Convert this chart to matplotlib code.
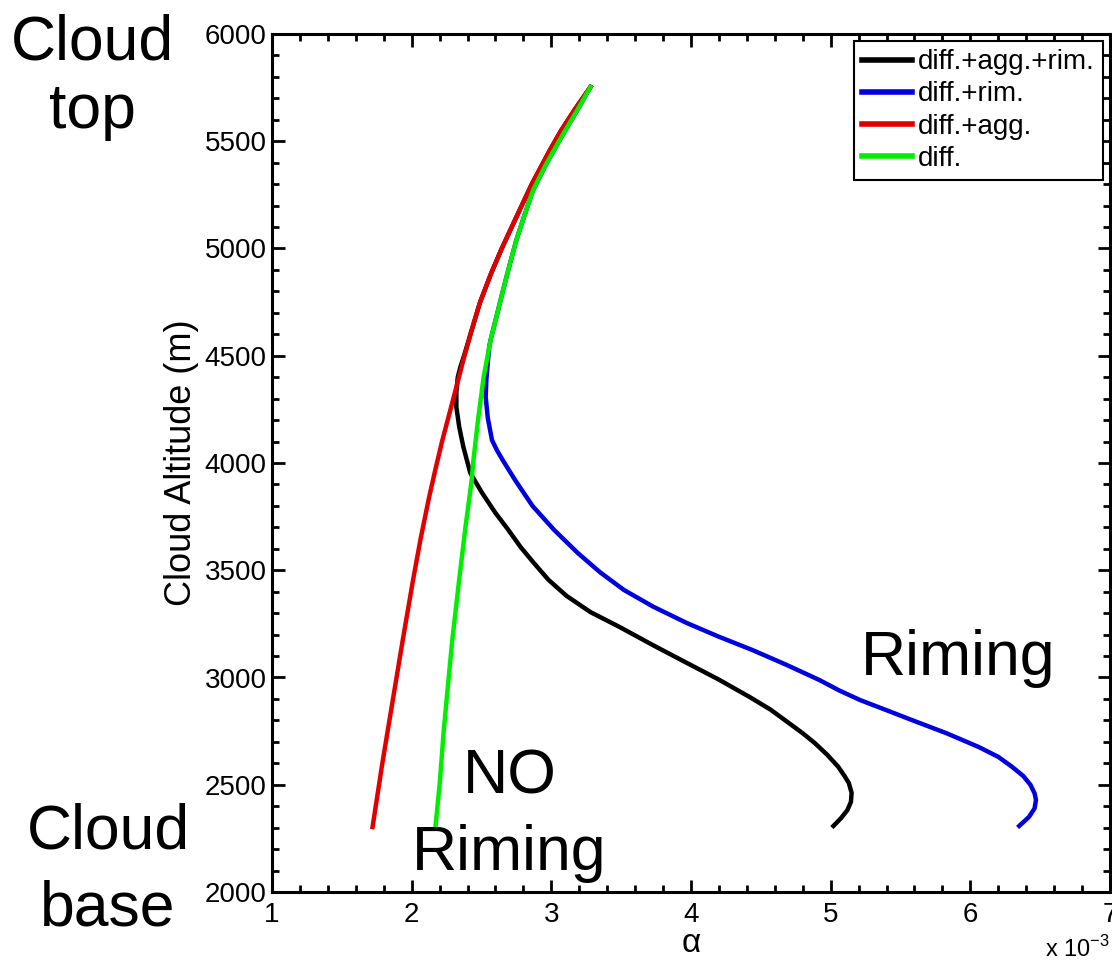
import matplotlib
matplotlib.use('Agg')
import matplotlib.pyplot as plt
from matplotlib.ticker import MultipleLocator

plt.rcParams['font.family'] = ['Liberation Sans', 'DejaVu Sans']
plt.rcParams['mathtext.fontset'] = 'custom'
plt.rcParams['mathtext.rm'] = 'Liberation Sans'

# alpha values (x 10^-3) against cloud altitude (m), top of cloud to base
alt_agg = [5753, 5650, 5550, 5459, 5300, 5147, 5000, 4886, 4750, 4620, 4480,
           4354, 4230, 4107, 3970, 3841, 3650, 3455, 3170, 2895, 2600, 2303]
alpha_agg = [3.28, 3.17, 3.07, 2.99, 2.86, 2.75, 2.645, 2.57, 2.49, 2.43, 2.37,
             2.32, 2.27, 2.22, 2.17, 2.125, 2.065, 2.01, 1.935, 1.865, 1.79, 1.72]

alt_diff = [5753, 5650, 5506, 5390, 5273, 5150, 5040, 4920, 4807, 4690, 4573,
            4400, 4200, 4000, 3921, 3700, 3455, 3170, 2895, 2755, 2500, 2303]
alpha_diff = [3.28, 3.19, 3.06, 2.96, 2.87, 2.805, 2.75, 2.70, 2.655, 2.61, 2.565,
              2.515, 2.475, 2.44, 2.43, 2.385, 2.34, 2.29, 2.25, 2.23, 2.20, 2.17]

alt_agg_rim = [5753, 5650, 5550, 5459, 5300, 5147, 5000, 4886, 4750, 4620,
               4500, 4450, 4400, 4330, 4261, 4170, 4075, 3953, 3860, 3767,
               3690, 3608, 3530, 3455, 3380, 3305, 3235, 3150, 3068, 2990,
               2909, 2850, 2788, 2740, 2695, 2640, 2583, 2540, 2508, 2462,
               2420, 2382, 2345, 2308]
alpha_agg_rim = [3.28, 3.17, 3.07, 2.99, 2.86, 2.75, 2.645, 2.57, 2.49, 2.43,
                 2.375, 2.35, 2.33, 2.32, 2.32, 2.34, 2.37, 2.42, 2.505, 2.60,
                 2.69, 2.78, 2.88, 2.98, 3.11, 3.28, 3.49, 3.73, 3.97, 4.20,
                 4.42, 4.57, 4.70, 4.80, 4.885, 4.975, 5.055, 5.10, 5.13, 5.15,
                 5.145, 5.12, 5.075, 5.02]

alt_rim = [5753, 5650, 5506, 5390, 5273, 5150, 5040, 4920, 4807, 4690, 4573,
           4540, 4466, 4390, 4308, 4210, 4107, 4060, 4010, 3921, 3800, 3688,
           3580, 3490, 3408, 3330, 3254, 3190, 3128, 3060, 2988, 2940, 2895,
           2850, 2802, 2740, 2676, 2630, 2583, 2540, 2500, 2460, 2429, 2390,
           2350, 2308]
alpha_rim = [3.28, 3.19, 3.06, 2.96, 2.87, 2.805, 2.75, 2.70, 2.655, 2.61, 2.565,
             2.555, 2.545, 2.535, 2.53, 2.545, 2.575, 2.61, 2.655, 2.74, 2.865,
             3.02, 3.19, 3.35, 3.52, 3.73, 3.97, 4.20, 4.44, 4.68, 4.92, 5.06,
             5.21, 5.39, 5.58, 5.83, 6.06, 6.20, 6.30, 6.38, 6.43, 6.46, 6.47,
             6.46, 6.42, 6.35]

xticks = [1, 2, 3, 4, 5, 6, 7]
yticks = [2000, 2500, 3000, 3500, 4000, 4500, 5000, 5500, 6000]

fig = plt.figure(figsize=(11.12, 9.63), dpi=100)
ax = fig.add_axes([272 / 1112, 71 / 963, 838 / 1112, 858 / 963])

lw = 3.2
ax.plot(alpha_agg_rim, alt_agg_rim, color='black', lw=lw, label='diff.+agg.+rim.')
ax.plot(alpha_rim, alt_rim, color='#0000e0', lw=lw, label='diff.+rim.')
ax.plot(alpha_agg, alt_agg, color='#e00000', lw=lw, label='diff.+agg.')
ax.plot(alpha_diff, alt_diff, color='#00ee00', lw=lw, label='diff.')

ax.set_xlim(1, 7)
ax.set_ylim(2000, 6000)
ax.set_xticks(xticks)
ax.set_xticklabels([str(t) for t in xticks])
ax.set_yticks(yticks)
ax.xaxis.set_minor_locator(MultipleLocator(0.2))
ax.yaxis.set_minor_locator(MultipleLocator(100))
ax.tick_params(which='both', direction='in', top=True, right=True,
               width=2, labelsize=20)
ax.tick_params(which='major', length=9)
ax.tick_params(which='minor', length=5)
ax.tick_params(axis='x', pad=7)
ax.tick_params(axis='y', pad=4)
for s in ax.spines.values():
    s.set_linewidth(2.2)

ax.set_ylabel('Cloud Altitude (m)', fontsize=26, labelpad=4)
ax.set_xlabel('α', fontsize=24, labelpad=0)

leg = ax.legend(loc='upper right', fontsize=20, handlelength=1.8,
                handletextpad=0.2, labelspacing=0.22, borderpad=0.3,
                borderaxespad=0.25, fancybox=False, framealpha=1,
                edgecolor='black')
leg.get_frame().set_linewidth(1.5)
for line in leg.get_lines():
    line.set_linewidth(4)

# scale factor under the x axis
fig.text(1110 / 1112, 1 - 957 / 963, r'x 10$^{-3}$', fontsize=17,
         ha='right', va='baseline')

# annotations
big = 45
fig.text(92 / 1112, 1 - 60 / 963, 'Cloud', fontsize=big, ha='center', va='baseline')
fig.text(92 / 1112, 1 - 128 / 963, 'top', fontsize=big, ha='center', va='baseline')
fig.text(108 / 1112, 1 - 848 / 963, 'Cloud', fontsize=big, ha='center', va='baseline')
fig.text(108 / 1112, 1 - 925 / 963, 'base', fontsize=big, ha='center', va='baseline')
ax.text(2.70, 2461, 'NO', fontsize=big, ha='center', va='baseline', clip_on=False)
ax.text(2.70, 2103, 'Riming', fontsize=big, ha='center', va='baseline', clip_on=False)
ax.text(5.91, 3012, 'Riming', fontsize=big, ha='center', va='baseline', clip_on=False)

fig.savefig('out.png', dpi=100)
